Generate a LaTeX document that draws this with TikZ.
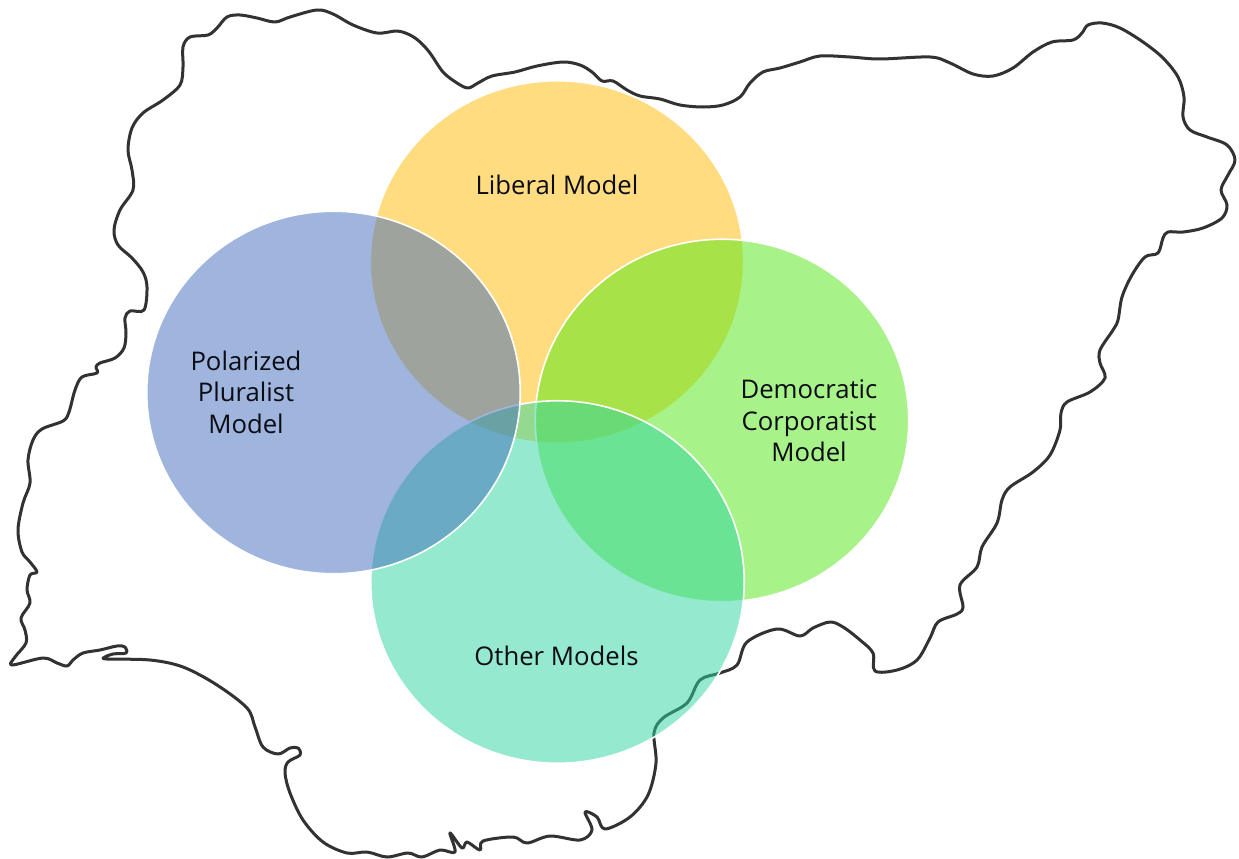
\documentclass[tikz,border=0pt]{standalone}
\usepackage{fontspec}
\setmainfont{Open Sans}
\usetikzlibrary{shapes.geometric}
\definecolor{cyellow}{RGB}{255,186,0}
\definecolor{cblue}{RGB}{64,108,188}
\definecolor{cgreen}{RGB}{83,233,21}
\definecolor{cteal}{RGB}{45,213,159}
\definecolor{coutline}{RGB}{51,49,50}
\definecolor{ctext}{RGB}{12,12,20}
\tikzset{
  venn/.style={ellipse,inner sep=0pt,minimum width=373.5pt,minimum height=362.5pt,draw=white,line width=1.6pt,fill opacity=.5,draw opacity=1},
  lab/.style={align=center,text=ctext,font=\fontsize{25.7}{31.5}\selectfont,inner sep=0pt},
  border/.style={draw=coutline,line width=3pt,line join=round}
}
\begin{document}
\begin{tikzpicture}[x=1pt,y=-1pt]
\path[use as bounding box,fill=white] (0,0) rectangle (1239,859);
\draw[border] plot[smooth cycle,tension=0.55] coordinates {
(42,429)(63,421)(69,412)(75,390)(82,377)(97,373)(96,367)(100,363)(115,358)(124,348)(126,333)(125,318)(130,311)(144,310)(147,287)(143,272)(132,258)(118,245)(114,230)(120,210)(133,190)(132,170)(128,150)(132,128)(143,113)(163,100)(180,85)(183,67)(183,47)(190,37)(208,35)(217,28)(227,17)(240,15)(257,18)(275,22)(290,17)(317,10)(333,14)(353,25)(377,33)(397,31)(410,35)(420,42)
(430,53)(443,72)(457,83)(468,88)(478,83)(492,76)(515,72)(537,66)(563,62)(580,65)(592,72)(602,81)(613,81)(627,90)(640,96)(660,99)(680,105)(703,107)(723,105)(740,97)(750,83)(763,72)(780,68)(800,62)(820,56)(850,57)
(880,59)(930,57)(950,63)(973,74)(993,76)(1013,68)(1033,52)(1052,42)(1073,40)(1082,33)(1088,25)(1102,23)(1120,28)(1143,42)(1163,58)(1178,77)(1184,97)(1183,117)(1190,130)(1207,137)(1227,145)(1235,160)(1228,175)(1221,190)(1227,205)(1222,218)(1203,228)(1183,232)(1168,232)(1163,238)(1158,253)(1145,257)(1132,275)(1122,297)(1118,320)(1113,330)
(1100,350)(1100,363)(1105,378)(1090,392)(1067,402)(1061,413)(1060,430)(1050,455)(1033,472)(1010,487)(1002,500)(997,523)(982,547)(977,567)(960,585)(963,607)(957,614)(938,622)(930,638)(917,660)(897,670)(875,671)(873,653)(860,640)
(843,627)(830,622)(813,628)(800,636)(777,629)(747,642)(737,665)(720,673)(700,680)(687,703)(663,718)(654,733)(656,763)(648,795)(630,817)(605,829)(597,817)(585,812)(592,830)(580,840)(550,836)(527,843)(513,837)(483,841)(480,850)(467,842)(462,848)(450,833)(455,852)(440,850)(422,857)(408,853)(387,857)(367,852)(347,853)(323,842)(303,820)(290,793)(285,773)(288,762)(300,755)(298,748)(290,748)(278,754)(263,747)(255,727)(247,708)(217,685)(183,667)(150,660)(107,659)(105,657)(113,654)(126,653)(125,647)(117,646)(100,650)(83,653)(73,660)(67,666)(57,663)(43,658)(12,665)(15,657)(26,643)(25,630)(21,618)(30,603)(27,590)(30,575)(37,572)(30,562)(22,552)(18,530)(23,503)(30,483)(28,460)(33,440)
};
\node[venn,fill=cyellow] (liberal) at (557,262) {};
\node[venn,fill=cgreen] (democratic) at (722,420.5) {};
\node[venn,fill=cteal] (other) at (557.5,582) {};
\node[venn,fill=cblue] (polarized) at (333.5,392.5) {};
\node[lab] (tliberal) at (557,185) {Liberal Model};
\node[lab] (tpolarized) at (246,392) {Polarized\\Pluralist\\Model};
\node[lab] (tdemocratic) at (809,421) {Democratic\\Corporatist\\Model};
\node[lab] (tother) at (556.5,655.5) {Other Models};
\end{tikzpicture}
\end{document}
